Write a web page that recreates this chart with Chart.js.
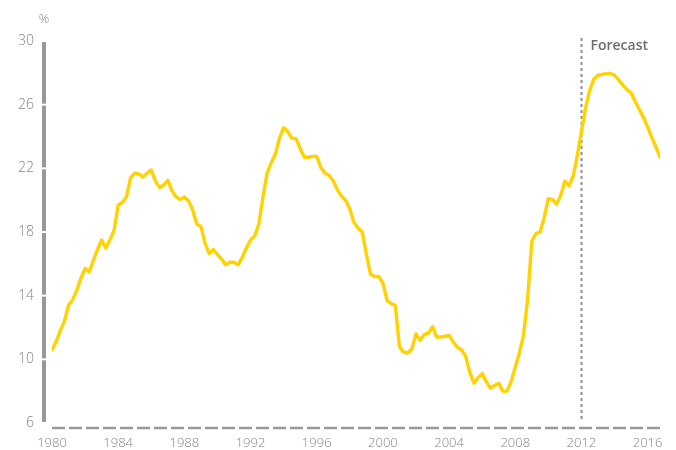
<!DOCTYPE html>
<html>
<head>
<meta charset="utf-8">
<script src="https://cdn.jsdelivr.net/npm/chart.js@4/dist/chart.umd.min.js"></script>
<style>
  html, body { margin: 0; padding: 0; background: #fff; }
  #wrap { width: 676px; height: 450px; }
</style>
</head>
<body>
<div id="wrap"><canvas id="c" width="676" height="450"></canvas></div>
<script>
// Quarterly series, percent. First quarter is 1980 Q1.
const firstYear = 1980;
const actual = [
  10.6, 11.1, 11.8, 12.4,   13.4, 13.75, 14.35, 15.1,
  15.7, 15.5, 16.2, 16.9,   17.5, 17.0, 17.5, 18.1,
  19.7, 19.85, 20.2, 21.4,  21.7, 21.65, 21.45, 21.7,
  21.9, 21.2, 20.8, 20.95,  21.25, 20.6, 20.2, 20.05,
  20.2, 19.95, 19.4, 18.5,  18.35, 17.3, 16.65, 16.9,
  16.6, 16.3, 15.95, 16.1,  16.1, 15.95, 16.4, 17.0,
  17.5, 17.75, 18.5, 20.2,  21.7, 22.35, 22.9, 23.9,
  24.55, 24.3, 23.9, 23.85, 23.25, 22.7, 22.7, 22.75,
  22.75, 22.05, 21.7, 21.55, 21.2, 20.65, 20.25, 20.0,
  19.45, 18.6, 18.25, 18.0, 16.6, 15.35, 15.2, 15.2,
  14.8, 13.7, 13.5, 13.4,   10.8, 10.45, 10.4, 10.65,
  11.6, 11.2, 11.55, 11.65, 12.05, 11.4, 11.4, 11.45,
  11.5, 11.1, 10.75, 10.6,  10.2, 9.2, 8.5, 8.85,
  9.1, 8.6, 8.2, 8.35,      8.5, 8.0, 8.0, 8.6,
  9.5, 10.4, 11.5, 13.8,    17.4, 17.9, 18.0, 18.9,
  20.1, 20.05, 19.75, 20.3, 21.2, 20.9, 21.5, 22.8
];
const forecast = [
  24.3, 25.8, 26.9, 27.6,   27.85, 27.9, 27.95, 27.95,
  27.85, 27.55, 27.25, 26.95, 26.75, 26.2, 25.7, 25.2,
  24.6, 23.95, 23.35, 22.7
];
const forecastStart = 2012;
const yTicks = [6, 10, 14, 18, 22, 26, 30];
const xTicks = [1980, 1984, 1988, 1992, 1996, 2000, 2004, 2008, 2012, 2016];
const unitLabel = '%';
const forecastLabel = 'Forecast';

const values = actual.concat(forecast);
const points = values.map((v, i) => ({ x: firstYear + i / 4, y: v }));

const GREY = '#97989b';
const TEXT = '#838487';
const FONT = "'Open Sans', 'DejaVu Sans', sans-serif";

const decor = {
  id: 'decor',
  beforeDatasetsDraw(chart) {
    const { ctx, chartArea, scales } = chart;
    const x = scales.x, y = scales.y;
    ctx.save();

    // vertical value bar, broken at every tick
    const barX = chartArea.left - 8;
    ctx.strokeStyle = GREY;
    ctx.lineWidth = 4;
    ctx.lineCap = 'butt';
    for (let i = 0; i < yTicks.length - 1; i++) {
      const a = y.getPixelForValue(yTicks[i]);
      const b = y.getPixelForValue(yTicks[i + 1]);
      ctx.beginPath();
      ctx.moveTo(barX, a - 1);
      ctx.lineTo(barX, b + 1);
      ctx.stroke();
    }

    // dashed base line
    ctx.setLineDash([13, 4]);
    ctx.lineWidth = 2.5;
    ctx.beginPath();
    ctx.moveTo(chartArea.left, chartArea.bottom + 5);
    ctx.lineTo(chartArea.right, chartArea.bottom + 5);
    ctx.stroke();

    // forecast divider
    const fx = Math.round(x.getPixelForValue(forecastStart)) + 0.5;
    ctx.setLineDash([3, 3]);
    ctx.lineWidth = 2;
    ctx.strokeStyle = '#8d8e91';
    ctx.beginPath();
    ctx.moveTo(fx, chartArea.top - 3);
    ctx.lineTo(fx, chartArea.bottom - 2);
    ctx.stroke();
    ctx.setLineDash([]);

    // labels
    ctx.fillStyle = TEXT;
    ctx.font = '300 13px ' + FONT;
    ctx.textAlign = 'center';
    ctx.textBaseline = 'middle';
    ctx.fillText(unitLabel, barX, 19);

    ctx.fillStyle = '#6d6e71';
    ctx.font = '600 14px ' + FONT;
    ctx.textAlign = 'left';
    ctx.fillText(forecastLabel, fx + 9, 46);
    ctx.restore();
  }
};

new Chart(document.getElementById('c'), {
  type: 'line',
  data: {
    datasets: [{
      data: points,
      borderColor: '#ffd200',
      borderWidth: 3.4,
      pointRadius: 0,
      tension: 0,
      borderJoinStyle: 'round',
      borderCapStyle: 'round'
    }]
  },
  options: {
    responsive: false,
    animation: false,
    layout: { padding: { top: 41, right: 16, bottom: 0, left: 0 } },
    plugins: { legend: { display: false }, tooltip: { enabled: false } },
    scales: {
      x: {
        type: 'linear',
        min: firstYear,
        max: firstYear + (values.length - 1) / 4,
        afterBuildTicks(scale) { scale.ticks = xTicks.map(v => ({ value: v })); },
        afterFit(scale) { scale.height = 27; },
        grid: { display: false, drawTicks: false },
        border: { display: false },
        ticks: {
          color: TEXT,
          font: { family: FONT, size: 13, weight: '300' },
          padding: 12,
          maxRotation: 0,
          callback: v => String(v)
        }
      },
      y: {
        min: 6,
        max: 30,
        afterBuildTicks(scale) { scale.ticks = yTicks.map(v => ({ value: v })); },
        afterFit(scale) { scale.width = 52; },
        grid: { display: false, drawTicks: false },
        border: { display: false },
        ticks: {
          color: TEXT,
          font: { family: FONT, size: 14, weight: '300' },
          padding: 18,
          callback: v => String(v)
        }
      }
    }
  },
  plugins: [decor]
});
</script>
</body>
</html>
